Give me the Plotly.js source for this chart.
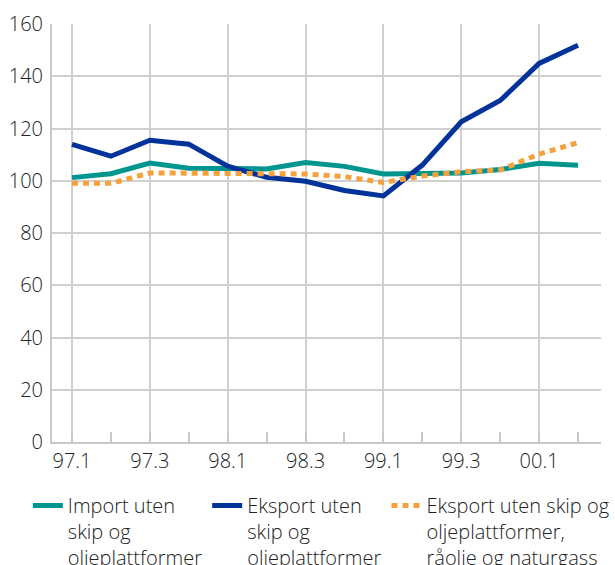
<!DOCTYPE html>
<html>
<head>
<meta charset="utf-8">
<script src="https://cdn.plot.ly/plotly-3.0.1.min.js"></script>
<style>
  html, body { margin: 0; padding: 0; background: #fff; }
  #topbar { position: absolute; left: 12px; top: 0; width: 603px; height: 3px; background: #00958f; }
  #chart { width: 615px; height: 565px; }
</style>
</head>
<body>
<div id="topbar"></div>
<div id="chart"></div>
<script>
const quarters = ["97.1","97.2","97.3","97.4","98.1","98.2","98.3","98.4","99.1","99.2","99.3","99.4","00.1","00.2"];
const importUten = [101.2, 102.7, 106.8, 104.8, 104.7, 104.5, 107.0, 105.5, 102.6, 102.8, 103.0, 104.3, 106.7, 105.9];
const eksportUten = [113.9, 109.4, 115.5, 114.0, 105.6, 101.3, 99.8, 96.3, 94.2, 106.0, 122.6, 130.7, 144.9, 151.9];
const eksportUtenOlje = [99.0, 99.0, 103.0, 103.0, 103.0, 103.0, 102.6, 101.6, 99.3, 101.8, 103.5, 104.1, 110.2, 114.6];
const seriesNames = [
  "Import uten<br>skip og<br>oljeplattformer",
  "Eksport uten<br>skip og<br>oljeplattformer",
  "Eksport uten skip og<br>oljeplattformer,<br>råolje og naturgass"
];
const yTicks = [0, 20, 40, 60, 80, 100, 120, 140, 160];

const idx = quarters.map((q, i) => i);
const labelIdx = idx.filter(i => i % 2 === 0);

const FONT = "'Open Sans', 'Noto Sans', sans-serif";

const traces = [
  { x: idx, y: importUten, name: seriesNames[0], mode: "lines", type: "scatter",
    line: { color: "#00968f", width: 5 } },
  { x: idx, y: eksportUten, name: seriesNames[1], mode: "lines", type: "scatter",
    line: { color: "#00339a", width: 5 } },
  { x: idx, y: eksportUtenOlje, name: seriesNames[2], mode: "lines", type: "scatter",
    line: { color: "#f7a13d", width: 5, dash: "6px,5px" } }
];

const layout = {
  width: 615, height: 565,
  margin: { l: 52, r: 14, t: 24, b: 123, autoexpand: false },
  paper_bgcolor: "#fff", plot_bgcolor: "#fff",
  font: { family: FONT, size: 20, color: "#222", weight: 300 },
  showlegend: true,
  legend: {
    orientation: "h", x: -0.044, xanchor: "left", y: -0.105, yanchor: "top",
    valign: "top", font: { size: 20, color: "#222", weight: 300 },
    traceorder: "normal"
  },
  xaxis: {
    type: "linear", range: [-0.514, 13.59],
    tickmode: "array", tickvals: labelIdx, ticktext: labelIdx.map(i => quarters[i]),
    showgrid: true, gridcolor: "#d0d0d0", gridwidth: 2,
    showline: true, linecolor: "#c8c8c8", linewidth: 2,
    ticks: "", zeroline: false,
    minor: { tickmode: "array", tickvals: idx, ticks: "inside", ticklen: 10, tickwidth: 2, tickcolor: "#c8c8c8", showgrid: false },
    tickfont: { size: 20, color: "#222", weight: 300 }
  },
  yaxis: {
    range: [0, 160], tickmode: "array", tickvals: yTicks,
    showgrid: true, gridcolor: "#d0d0d0", gridwidth: 2,
    showline: true, linecolor: "#c8c8c8", linewidth: 2,
    ticks: "", zeroline: false, ticklabelstandoff: 3,
    tickfont: { size: 20, color: "#222", weight: 300 }
  }
};

Plotly.newPlot("chart", traces, layout, { displayModeBar: false, staticPlot: true });
</script>
</body>
</html>
